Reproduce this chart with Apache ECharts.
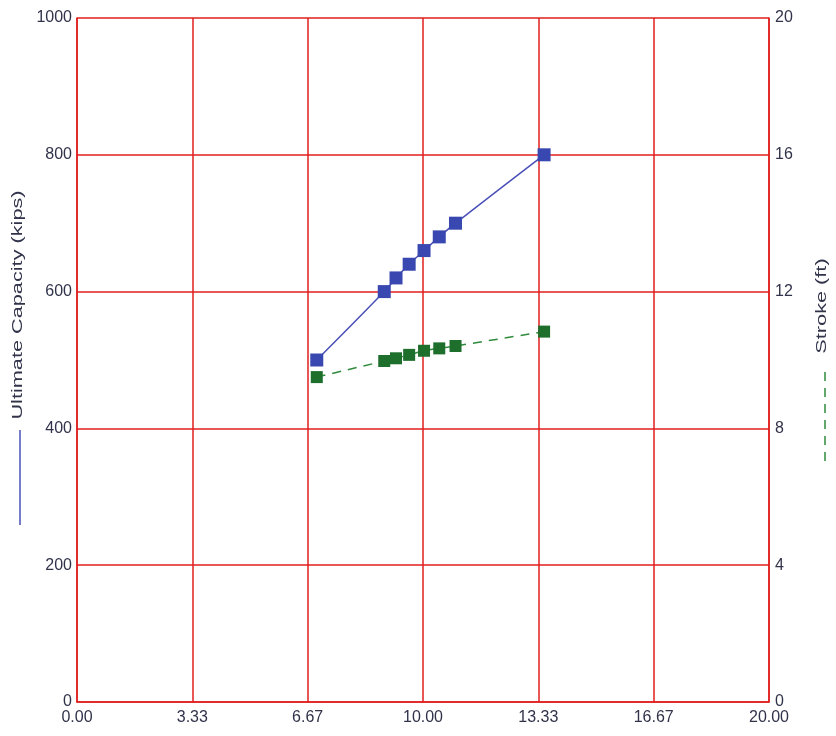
<!DOCTYPE html>
<html>
<head>
<meta charset="utf-8">
<script src="https://cdn.jsdelivr.net/npm/echarts@6/dist/echarts.min.js"></script>
<style>
  html, body { margin: 0; padding: 0; background: #fff; }
  #chart { width: 836px; height: 736px; }
</style>
</head>
<body>
<div id="chart"></div>
<script>
// Pile drivability: ultimate capacity and stroke versus blow count
const blowCount = [6.93, 8.88, 9.22, 9.60, 10.03, 10.47, 10.94, 13.50];
const capacity  = [500, 600, 620, 640, 660, 680, 700, 800];
const stroke    = [9.50, 9.97, 10.05, 10.15, 10.27, 10.34, 10.41, 10.83];

const gridRed = '#e01e1e';
const textColor = '#30334a';
const font = '"Liberation Sans", Arial, sans-serif';

const chart = echarts.init(document.getElementById('chart'));

chart.setOption({
  animation: false,
  grid: { left: 77, right: 67, top: 18, bottom: 34, containLabel: false },
  xAxis: {
    type: 'value', min: 0, max: 20, interval: 20 / 6,
    axisLine: { show: true, lineStyle: { color: gridRed, width: 1.5 } },
    axisTick: { show: false },
    splitLine: { show: true, lineStyle: { color: gridRed, width: 1.5 } },
    axisLabel: {
      color: textColor, fontSize: 16, fontFamily: font, margin: 8,
      formatter: v => v.toFixed(2)
    }
  },
  yAxis: [
    {
      type: 'value', min: 0, max: 1000, interval: 200, position: 'left',
      axisLine: { show: true, lineStyle: { color: gridRed, width: 1.5 } },
      axisTick: { show: false },
      splitLine: { show: true, lineStyle: { color: gridRed, width: 1.5 } },
      axisLabel: {
        color: textColor, fontSize: 16, fontFamily: font, margin: 5,
        formatter: v => String(v)
      }
    },
    {
      type: 'value', min: 0, max: 20, interval: 4, position: 'right',
      axisLine: { show: true, lineStyle: { color: gridRed, width: 1.5 } },
      axisTick: { show: false },
      splitLine: { show: false },
      axisLabel: {
        color: textColor, fontSize: 16, fontFamily: font, margin: 6,
        formatter: v => String(v)
      }
    }
  ],
  series: [
    {
      name: 'Ultimate Capacity (kips)', type: 'line', yAxisIndex: 0,
      data: blowCount.map((x, i) => [x, capacity[i]]),
      smooth: 0.4,
      symbol: 'rect', symbolSize: 13,
      lineStyle: { color: '#4a50b8', width: 1.5 },
      itemStyle: { color: '#3848b0' },
      z: 3
    },
    {
      name: 'Stroke (ft)', type: 'line', yAxisIndex: 1,
      data: blowCount.map((x, i) => [x, stroke[i]]),
      smooth: 0.4,
      symbol: 'rect', symbolSize: 12,
      lineStyle: { color: '#2f8a3c', width: 1.5, type: [9, 7] },
      itemStyle: { color: '#1e6e2c' },
      z: 3
    }
  ],
  graphic: [
    {
      type: 'text', x: 18, y: 305, rotation: Math.PI / 2, scaleX: 1.55,
      style: {
        text: 'Ultimate Capacity (kips)', fill: textColor, fontSize: 14,
        fontFamily: font, align: 'center', verticalAlign: 'middle'
      }
    },
    {
      type: 'line', shape: { x1: 20, y1: 430, x2: 20, y2: 525 },
      style: { stroke: '#4a50b8', lineWidth: 1.5 }
    },
    {
      type: 'text', x: 822, y: 306, rotation: Math.PI / 2, scaleX: 1.55,
      style: {
        text: 'Stroke (ft)', fill: textColor, fontSize: 14,
        fontFamily: font, align: 'center', verticalAlign: 'middle'
      }
    },
    {
      type: 'line', shape: { x1: 825, y1: 372, x2: 825, y2: 462 },
      style: { stroke: '#2f8a3c', lineWidth: 1.5, lineDash: [9, 7] }
    }
  ]
});
</script>
</body>
</html>
